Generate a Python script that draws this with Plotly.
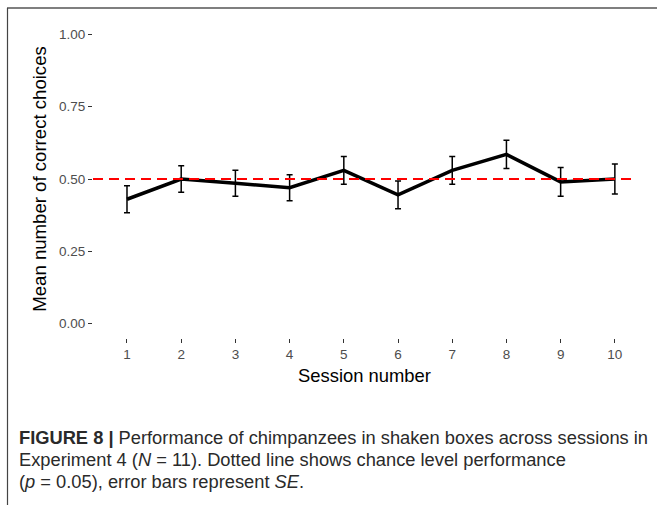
import plotly.graph_objects as go

sessions = [1, 2, 3, 4, 5, 6, 7, 8, 9, 10]
mean_correct = [0.43, 0.50, 0.485, 0.47, 0.53, 0.445, 0.53, 0.585, 0.49, 0.50]
se = [0.047, 0.046, 0.045, 0.045, 0.048, 0.048, 0.048, 0.049, 0.05, 0.052]
chance_level = 0.5
y_ticks = [0.0, 0.25, 0.5, 0.75, 1.0]
y_tick_labels = ["0.00", "0.25", "0.50", "0.75", "1.00"]

W, H = 657, 509
ml, mr, mt, mb = 93, 21, 20, 171
pw, ph = W - ml - mr, H - mt - mb

def px(x):  # pixel -> paper x
    return (x - ml) / pw

def py(y):  # pixel -> paper y
    return 1 - (y - mt) / ph

fig = go.Figure()
fig.add_trace(go.Scatter(
    x=sessions, y=mean_correct, mode="lines",
    line=dict(color="black", width=3.5),
    error_y=dict(type="data", array=se, visible=True, color="black",
                 thickness=1.5, width=3),
    showlegend=False, hoverinfo="skip"))

fig.add_shape(type="line", xref="paper", x0=0, x1=1, yref="y",
              y0=chance_level, y1=chance_level, layer="above",
              line=dict(color="#FF0000", width=2.2, dash="10px,6px"))

# frame (top and left edges)
fig.add_shape(type="line", xref="paper", yref="paper",
              x0=px(7), x1=px(657), y0=py(8), y1=py(8),
              line=dict(color="#555555", width=1.5))
fig.add_shape(type="line", xref="paper", yref="paper",
              x0=px(7.5), x1=px(7.5), y0=py(8), y1=py(505),
              line=dict(color="#444444", width=1.2))

caption = [
    "<b>FIGURE 8 |</b> Performance of chimpanzees in shaken boxes across sessions in",
    "Experiment 4 (<i>N</i> = 11). Dotted line shows chance level performance",
    "(<i>p</i> = 0.05), error bars represent <i>SE</i>.",
]
for i, line in enumerate(caption):
    fig.add_annotation(text=line, xref="paper", yref="paper",
                       x=px(17), y=py(437 + 22 * i), xanchor="left", yanchor="middle",
                       showarrow=False,
                       font=dict(family="Liberation Sans, Arial", size=18.3, color="#2A2A2A"))

fig.update_layout(
    width=W, height=H,
    margin=dict(l=ml, r=mr, t=mt, b=mb),
    paper_bgcolor="white", plot_bgcolor="white",
    font=dict(family="Liberation Sans, Arial", color="black"),
    xaxis=dict(range=[0.373, 10.39], tickvals=sessions, ticktext=[str(s) for s in sessions],
               showgrid=False, zeroline=False, showline=False,
               ticks="outside", ticklen=4, tickwidth=1.2, tickcolor="#333333",
               tickfont=dict(size=13.5, color="#4D4D4D"),
               title=dict(text="Session number", font=dict(size=18.4, color="black"), standoff=7)),
    yaxis=dict(range=[-0.05, 1.05], tickvals=y_ticks, ticktext=y_tick_labels,
               showgrid=False, zeroline=False, showline=False,
               ticks="outside", ticklen=4, tickwidth=1.2, tickcolor="#333333",
               tickfont=dict(size=13.5, color="#4D4D4D"),
               title=dict(text="Mean number of correct choices", font=dict(size=18.6, color="black"), standoff=7)),
)

fig.write_html("out.html")
